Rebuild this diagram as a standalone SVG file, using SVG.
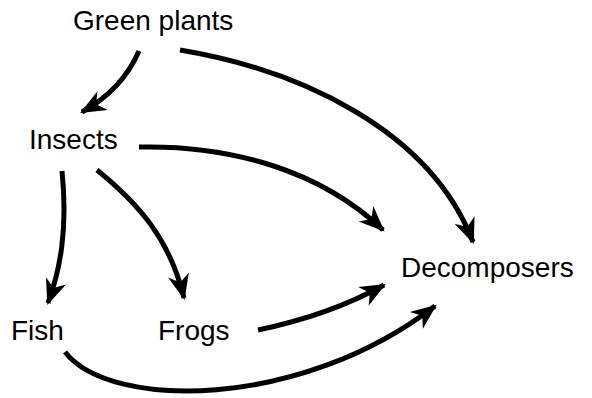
<svg xmlns="http://www.w3.org/2000/svg" width="592" height="398" viewBox="0 0 592 398">
<defs>
<style>
.lbl{font-family:"Liberation Sans",Arial,sans-serif;font-size:28px;fill:#000}
.c{fill:none;stroke:#000;stroke-width:5;marker-end:url(#ah)}
</style>
<marker id="ah" markerUnits="userSpaceOnUse" markerWidth="30" markerHeight="30" viewBox="-24 -12 28 24" refX="0" refY="0" orient="auto">
<path d="M2,0 L-22,-10 L-15,0 L-22,10 Z" fill="#000"/>
</marker>
</defs>
<rect width="592" height="398" fill="#fff"/>
<g id="connectors">
<path class="c" d="M139,51 Q122,90 82,112"/>
<path class="c" d="M180,50 C300,70 430,130 473,242"/>
<path class="c" d="M139,147 C230,145 320,170 383,230"/>
<path class="c" d="M62,171 C68,230 60,270 48,303"/>
<path class="c" d="M97,170 C140,205 170,240 184,298"/>
<path class="c" d="M258,330 Q330,315 384,285"/>
<path class="c" d="M65,352 C110,410 300,410 435,306"/>
</g>
<g id="green-plants"><text class="lbl" x="73" y="30">Green plants</text></g>
<g id="insects"><text class="lbl" x="29" y="149">Insects</text></g>
<g id="fish"><text class="lbl" x="11" y="340">Fish</text></g>
<g id="frogs"><text class="lbl" x="158" y="340">Frogs</text></g>
<g id="decomposers"><text class="lbl" x="401" y="277">Decomposers</text></g>
</svg>
